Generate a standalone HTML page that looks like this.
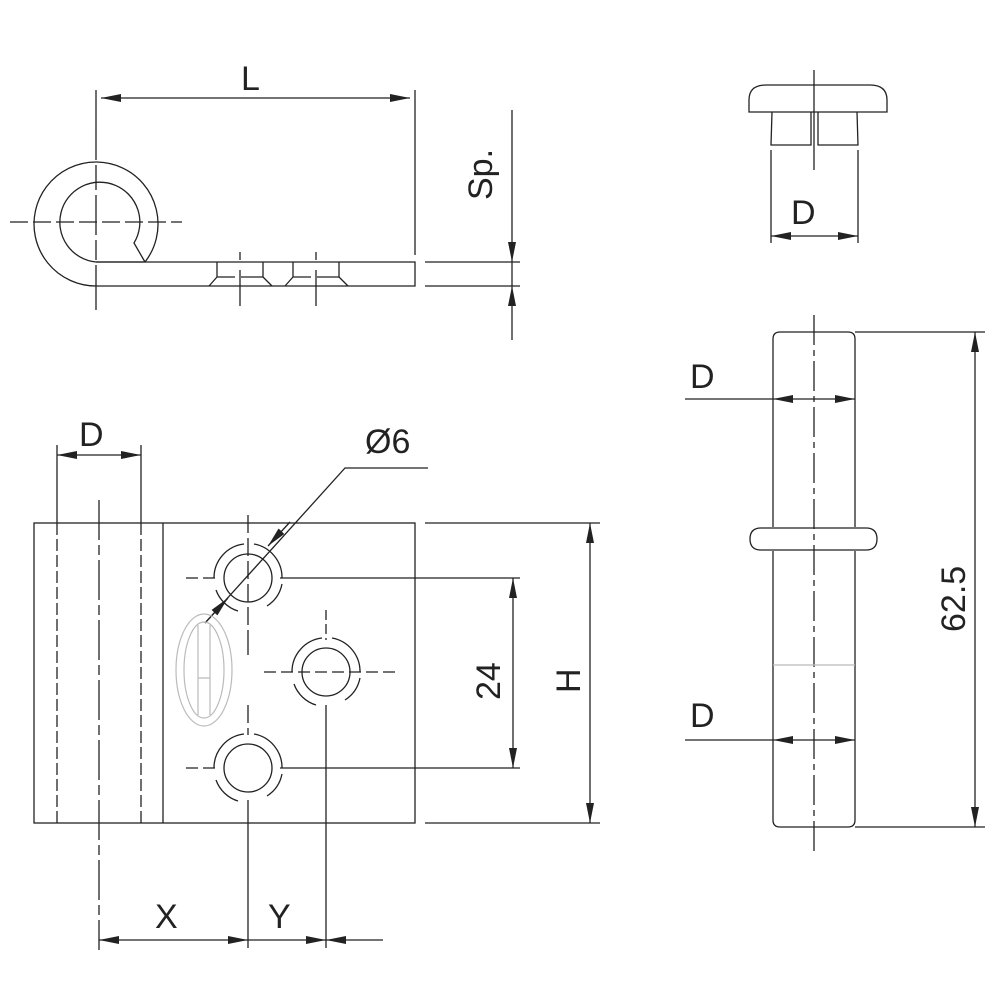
<!DOCTYPE html>
<html><head><meta charset="utf-8"><style>body{margin:0;background:#fff}svg{display:block}text{font-family:"Liberation Sans",sans-serif;fill:#222}</style></head><body>
<svg width="1000" height="1000" viewBox="0 0 1000 1000" xmlns="http://www.w3.org/2000/svg">
<defs>
<marker id="a" viewBox="0 0 20 8" refX="20" refY="4" markerWidth="20" markerHeight="8" markerUnits="userSpaceOnUse" orient="auto-start-reverse"><path d="M0,0 L20,4 L0,8 z" fill="#222"/></marker>
</defs>
<g stroke="#222" stroke-width="1.3" fill="none">
<!-- top view -->
<path d="M96,286 A62,62 0 1 1 145,262 L96,262"/>
<path d="M96,262 A40,40 0 1 1 134,243 L145,262"/>
<path d="M96,262 L415,262 L415,286 L96,286"/>
<path d="M217,262v15M263,262v15M217,277l-8,9M263,277l9,9M217,277h18M241,277h22"/>
<path d="M293,262v15M339,262v15M293,277l-8,9M339,277l9,9M293,277h18M317,277h22"/>
<path d="M10,222H182" stroke-dasharray="18,5"/>
<path d="M96,90V310" stroke-dasharray="70,5,25,5,40,5,20,5"/>
<path d="M240,252v8M240,270v36M316,252v8M316,270v36"/>
<path d="M415,90V255"/>
<path d="M101,98H410" marker-start="url(#a)" marker-end="url(#a)"/>
<path d="M425,262H520M425,286H520"/>
<path d="M512,110V262" marker-end="url(#a)"/>
<path d="M512,340V286" marker-end="url(#a)"/>
<path d="M512,262V286"/>
<!-- front view -->
<rect x="34" y="523" width="381" height="300"/>
<path d="M163,523V823"/>
<path d="M57,523V823M141,523V823" stroke-dasharray="12,4"/>
<path d="M99,500V950" stroke-dasharray="40,5,10,5"/>
<path d="M57,445V523M141,445V523"/>
<path d="M57,455H141" marker-start="url(#a)" marker-end="url(#a)"/>
<g>
<circle cx="248" cy="578" r="24"/><circle cx="326" cy="672" r="24"/><circle cx="248" cy="768" r="24"/>
<path d="M214,578A34,34 0 0 1 244,544M254,544A34,34 0 0 1 282,578M282,584A34,34 0 0 1 267,606M238,611A34,34 0 0 1 216,590"/>
<path d="M214,768A34,34 0 0 1 244,734M254,734A34,34 0 0 1 282,768M282,774A34,34 0 0 1 267,796M238,801A34,34 0 0 1 216,780"/>
<path d="M292,672A34,34 0 0 1 322,638M332,638A34,34 0 0 1 360,672M360,678A34,34 0 0 1 345,700M316,705A34,34 0 0 1 294,684"/>
</g>
<path d="M186,578h30M186,768h30M264,672h134" stroke-dasharray="12,5"/>
<path d="M248,515V640M248,705V735" stroke-dasharray="18,5"/>
<path d="M326,610V640" stroke-dasharray="10,4"/>
<path d="M248,640V655M248,800V948M326,705V948"/>
<path d="M280,578H520M280,768H520"/>
<path d="M513,578V768" marker-start="url(#a)" marker-end="url(#a)"/>
<path d="M425,523H600M425,823H600"/>
<path d="M590,523V823" marker-start="url(#a)" marker-end="url(#a)"/>
<path d="M428,468H345L205,623"/>
<path d="M290,522L268,546" marker-end="url(#a)"/>
<path d="M205,623L228,598" marker-end="url(#a)"/>
<path d="M99,940H248" marker-start="url(#a)" marker-end="url(#a)"/>
<path d="M248,940H326" marker-end="url(#a)"/>
<path d="M383,940H326" marker-end="url(#a)"/>
<g stroke="#bbb" stroke-width="1.2"><ellipse cx="204" cy="670" rx="28" ry="56"/><ellipse cx="204" cy="670" rx="20" ry="48"/><path d="M198,625v90M210,625v90M198,678h12"/></g>
<!-- cap -->
<path d="M749,112V100Q749,85 766,85H870Q887,85 887,100V112Z"/>
<path d="M772,112L771,145H811V112M818,112V145H858L857,112"/>
<path d="M814,70V170"/>
<path d="M771,150V243M858,150V243"/>
<path d="M771,236H858" marker-start="url(#a)" marker-end="url(#a)"/>
<!-- pin -->
<path d="M773,527V339Q773,332 780,332H848Q855,332 855,339V527"/>
<path d="M855,551V820Q855,827 848,827H780Q773,827 773,820V551"/>
<path d="M761,528H866Q877,528 877,539Q877,550 866,550H761Q750,550 750,539Q750,528 761,528Z"/>
<path d="M814,315V855" stroke-dasharray="30,5,6,5"/>
<path d="M773,665H855" stroke="#bbb"/>
<path d="M685,399H773M685,740H773"/>
<path d="M814,399H773" marker-end="url(#a)"/><path d="M814,399H855" marker-end="url(#a)"/>
<path d="M814,740H773" marker-end="url(#a)"/><path d="M814,740H855" marker-end="url(#a)"/>
<path d="M855,332H985M855,827H985"/>
<path d="M975,332V827" marker-start="url(#a)" marker-end="url(#a)"/>
</g>
<g font-size="34">
<text x="241" y="90">L</text>
<text transform="translate(492,200) rotate(-90)">Sp.</text>
<text x="79" y="446">D</text>
<text x="365" y="453">Ø6</text>
<text transform="translate(500,700) rotate(-90)">24</text>
<text transform="translate(580,693) rotate(-90)">H</text>
<text x="155" y="928">X</text>
<text x="268" y="928">Y</text>
<text x="791" y="224">D</text>
<text x="690" y="388">D</text>
<text x="690" y="727">D</text>
<text transform="translate(965,632) rotate(-90)">62.5</text>
</g>
</svg>
</body></html>
